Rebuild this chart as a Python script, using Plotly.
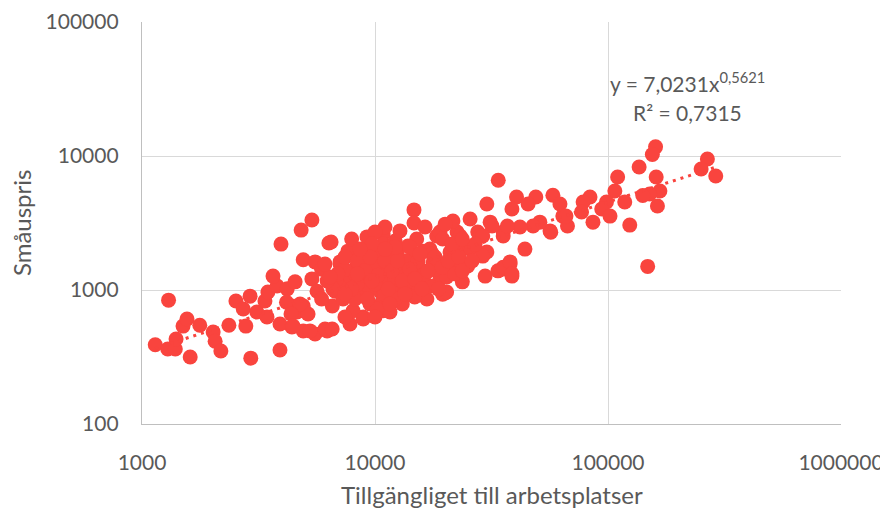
import numpy as np
import plotly.graph_objects as go

# Tillgänglighet till arbetsplatser (x) och småuspris (y)
tillganglighet = [
    1140, 1290, 1390, 1400, 1300, 1500, 1560, 1610, 1770, 2020, 2060, 2180, 2360, 2530, 2720,
    2790, 2930, 2910, 3110, 3440, 3370, 3470, 3800, 3650, 3910, 3910, 3950, 4200, 4400, 4540,
    4400, 4630, 4820, 4920, 4920, 4920, 5160, 5360, 5360, 5530, 5530, 5640, 6230, 6340, 4170,
    4770, 4360, 4450, 5260, 6100,
    7650, 7080, 6740, 6560, 7810, 8900, 8050, 9520, 8620, 7580, 9240, 10840, 8900, 10840, 10500,
    10840, 6480,
    14700, 14700, 11040, 10000, 10840, 8350, 9800, 11950, 14500, 17760, 16060, 12400, 10500, 8900,
    7080, 6860, 6600, 7290, 8900, 10840, 13100, 11600, 10200, 8900, 7810, 9520, 11600, 13200,
    15600, 14500, 12400, 10500, 8900, 16700, 20000, 19000, 23700, 24300, 21000, 17200, 13850,
    15100, 18400, 22500, 27600, 35500, 21600, 25600, 31200, 30200, 40500, 25600, 29000, 29700,
    35000, 38000, 38700, 44000,
    19000, 23200, 28200, 24900, 30200, 33700, 19500, 20300, 16000, 11200, 11900, 14500, 21600,
    11600, 14100, 17200, 14100,
    33800, 49000, 58000, 62200, 64000, 56400, 38700, 45400, 51000, 47700, 41900, 35500, 37000,
    29000, 35500, 20300, 25000, 22500, 19500, 67000, 56800, 31800, 29000, 38000, 38700,
    160000, 155000, 136000, 110000, 161000, 267000, 251000, 290000, 167000, 151000, 141000,
    163000, 107000, 118000, 98500, 94000, 102000, 83700, 78200, 77000, 86200, 66000, 124000,
    148000,
    6550, 7430, 8200, 10000, 12200, 13450, 16400, 18100, 22000, 11000, 9520, 8200, 12200, 14800,
    8400, 12200, 7430, 5900, 6230, 5900, 9700, 12200, 12800, 16400, 20000, 13450, 7940, 15300,
    17600,
    7430, 7940, 8400, 9060, 9300, 10000, 10300, 11040, 11400, 11800, 12500, 13100, 13450, 14100,
    14800, 15600, 15900, 16900, 18100, 18700, 19400, 20600, 21400, 22900, 23700, 26100, 26900,
    23700, 12200, 11040, 9520, 8620, 8400, 9700, 11600, 10000, 6920, 7430, 6410, 6100,
]
smauspris = [
    390, 363, 363, 431, 840, 538, 608, 316, 545, 486, 415, 351, 545, 828, 722,
    538, 310, 900, 686, 629, 828, 965, 1070, 1270, 557, 357, 2200, 1020, 530, 1150,
    760, 686, 2800, 1680, 495, 760, 662, 3330, 1210, 1620, 470, 980, 495, 2240, 810,
    787, 662, 538, 495, 512,
    1950, 1560, 980, 760, 557, 629, 700, 787, 980, 1110, 2490, 2620, 1480, 1390, 980,
    700, 2280,
    3960, 3160, 2950, 2710, 2200, 1510, 1650, 1560, 1700, 1610, 1950, 1920, 1860, 1790,
    1620, 1210, 1020, 857, 900, 857, 787, 686, 722, 608, 1270, 1270, 1210, 1360,
    1430, 1020, 1020, 1070, 1150, 857, 950, 1210, 1150, 1560, 1920, 2020, 2130,
    2400, 2530, 2710, 2710, 2710, 3270, 3390, 3210, 4380, 4940, 2020, 1860, 1270,
    1430, 1560, 1270, 2020,
    2710, 2530, 2530, 2090, 1920, 1390, 930, 1250, 1210, 1210, 1510, 1560, 1510,
    1020, 1070, 1070, 2090,
    6600, 4940, 5100, 4380, 3560, 2760, 4020, 4380, 3210, 3000, 2950, 2530, 3000,
    1790, 1480, 965, 1510, 2130, 2400, 3000, 2700, 3000, 2530, 1620, 1320,
    11700, 10250, 8280, 6970, 6970, 9500, 8000, 7100, 5480, 5200, 5070,
    4240, 5480, 4540, 4540, 4020, 3560, 4940, 4540, 3820, 3210, 3560, 3050,
    1500,
    512, 629, 1320, 1560, 1860, 1650, 1320, 1430, 1320, 935, 1020, 857, 857, 887,
    1110, 1210, 1430, 1430, 1170, 857, 2200, 2320, 2760, 2950, 3100, 1110, 2400, 1650,
    1860,
    1760, 1020, 1650, 1390, 857, 1110, 1290, 1650, 1020, 1390, 1650, 1170, 935, 1430,
    1210, 1860, 1020, 1390, 1760, 1020, 1480, 1650, 2200, 1760, 1390, 1650, 2200,
    2400, 2090, 2020, 1760, 2020, 1320, 1170, 787, 629, 1320, 935, 1250, 1560,
]

# Potenstrendlinje som visas i diagrammet
trend_a = 7.0231
trend_b = 0.5621
trend_r2 = "0,7315"

x_tickvals = [1000, 10000, 100000, 1000000]
x_ticktext = ["1000", "10000", "100000", "1000000"]
y_tickvals = [100, 1000, 10000, 100000]
y_ticktext = ["100", "1000", "10000", "100000"]

RED = "#F9443E"
TXT = "#595959"
FONT = "Lato"

fig = go.Figure()
fig.add_trace(go.Scatter(
    x=tillganglighet, y=smauspris, mode="markers",
    marker=dict(color=RED, size=15, line=dict(width=0)),
    showlegend=False, hoverinfo="x+y",
))

tx = np.logspace(np.log10(min(tillganglighet)), np.log10(max(tillganglighet)), 200)
ty = trend_a * tx ** trend_b
fig.add_trace(go.Scatter(
    x=tx, y=ty, mode="lines",
    line=dict(color=RED, width=3, dash="3px,5px"),
    showlegend=False, hoverinfo="skip",
))

axis_common = dict(
    type="log",
    showgrid=True, gridcolor="#D9D9D9", gridwidth=1.3,
    showline=True, linecolor="#BFBFBF", linewidth=1.3,
    zeroline=False, ticks="",
    tickfont=dict(family=FONT, size=21, color=TXT),
    fixedrange=True, automargin=False,
)

# the page body has an 8px margin, so the figure is 8px smaller and margins shifted
fig.update_layout(
    width=880, height=500,
    margin=dict(l=134, r=47, t=14, b=84, autoexpand=False),
    paper_bgcolor="white", plot_bgcolor="white",
    font=dict(family=FONT, color=TXT),
    xaxis=dict(
        range=[3, 6], tickvals=x_tickvals, ticktext=x_ticktext,
        ticklabelstandoff=20,
        **axis_common,
    ),
    yaxis=dict(
        range=[2, 5], tickvals=y_tickvals, ticktext=y_ticktext,
        ticklabelstandoff=18,
        **axis_common,
    ),
    annotations=[
        dict(text="Tillgängliget till arbetsplatser",
             xref="paper", yref="paper", x=0.5, y=-0.1766,
             showarrow=False, xanchor="center", yanchor="middle",
             font=dict(family=FONT, size=24, color=TXT)),
        dict(text="Småuspris", textangle=-90,
             xref="paper", yref="paper", x=-0.173, y=0.5,
             showarrow=False, xanchor="center", yanchor="middle",
             font=dict(family=FONT, size=24, color=TXT)),
        dict(text=f"y = {str(trend_a).replace('.', ',')}x<sup>{str(trend_b).replace('.', ',')}</sup>",
             xref="paper", yref="paper", x=0.781, y=0.851,
             showarrow=False, xanchor="center", yanchor="middle",
             font=dict(family=FONT, size=21, color=TXT)),
        dict(text=f"R² = {trend_r2}",
             xref="paper", yref="paper", x=0.781, y=0.774,
             showarrow=False, xanchor="center", yanchor="middle",
             font=dict(family=FONT, size=21, color=TXT)),
    ],
)

fig.write_html("out.html")
